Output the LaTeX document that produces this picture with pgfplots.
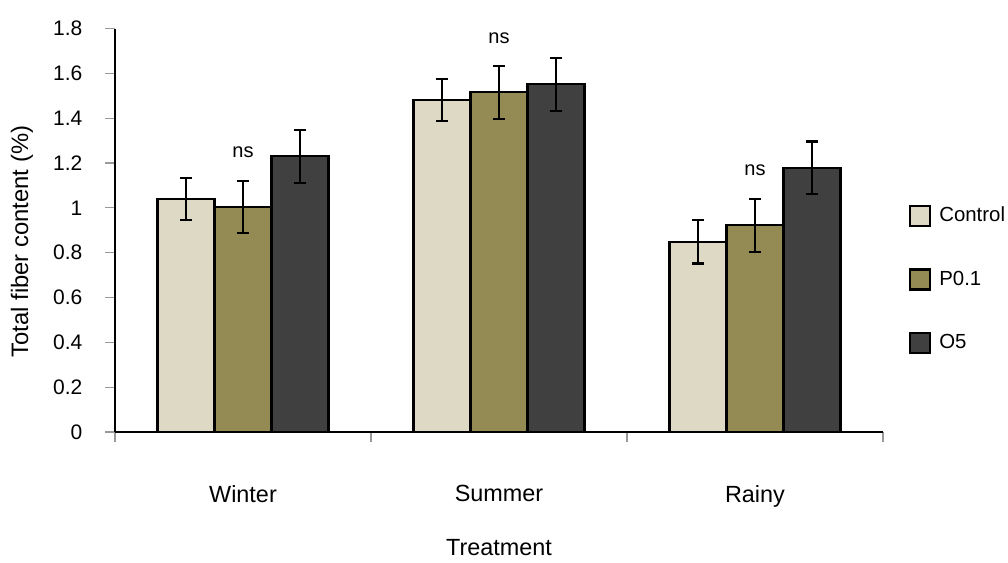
\documentclass[border=0pt]{standalone}
\usepackage{pgfplots}
\pgfplotsset{compat=1.18}
\usepackage{fontspec}
\setmainfont{Liberation Sans}

\definecolor{ctrlfill}{HTML}{DDD9C4}
\definecolor{pfill}{HTML}{948A54}
\definecolor{ofill}{HTML}{404040}

% season, mean, standard error
\pgfplotstableread{
x  y      e
0  1.040  0.094
1  1.480  0.094
2  0.848  0.096
}\control
\pgfplotstableread{
x  y      e
0  1.003  0.117
1  1.515  0.117
2  0.922  0.118
}\ptone
\pgfplotstableread{
x  y      e
0  1.230  0.118
1  1.551  0.118
2  1.178  0.118
}\ofive

\pgfplotsset{
  sqlegend/.style={legend image code/.code={
    \draw[##1, line width=1.1pt] (0pt,-5pt) rectangle (10pt,5pt);}},
  sebars/.style={
    error bars/y dir=both, error bars/y explicit,
    error bars/error bar style={draw=black, line width=1.1pt},
    error bars/error mark options={rotate=90, mark size=3pt, line width=1.1pt, black}},
}

\begin{document}
\begin{tikzpicture}
\begin{axis}[
  at={(0pt,0pt)}, anchor=south west,
  scale only axis, width=384pt, height=201.75pt,
  xmin=-0.5, xmax=2.5, ymin=0, ymax=1.8,
  axis lines*=left,
  axis line style={black, line width=0.6pt},
  ybar=0pt, bar width=28.5pt,
  tick align=outside,
  major tick length=4.8pt,
  tick style={gray!80, line width=0.6pt},
  xtick={-0.5,0.5,1.5,2.5},
  xticklabels={},
  extra x ticks={0,1,2},
  extra x tick labels={Winter,Summer,Rainy},
  extra x tick style={major tick length=0pt},
  xticklabel style={font=\fontsize{11.7}{14}\selectfont, yshift=-23pt},
  ytick={0,0.2,0.4,0.6,0.8,1,1.2,1.4,1.6,1.8},
  yticklabels={0,0.2,0.4,0.6,0.8,1,1.2,1.4,1.6,1.8},
  yticklabel style={font=\fontsize{10.5}{12}\selectfont, xshift=-8pt},
  xlabel={Treatment},
  ylabel={Total fiber content (\%)},
  xlabel style={font=\fontsize{11.7}{14}\selectfont, at={(axis description cs:0.5,-0.2875)}, anchor=center},
  ylabel style={font=\fontsize{11.9}{14}\selectfont, at={(axis description cs:-0.1211,0.472)}, anchor=center},
  legend style={at={(axis description cs:1.034,0.378)}, anchor=west,
    draw=none, fill=none, inner sep=0pt, outer sep=0pt,
    row sep=20.75pt, font=\fontsize{10.2}{12}\selectfont,
    nodes={inner sep=0pt},
    /tikz/every odd column/.append style={column sep=4pt}},
  legend cell align=left,
  clip=false,
]
\addplot[draw=black, line width=1.1pt, fill=ctrlfill, sqlegend, sebars] table[x=x, y=y, y error=e] {\control};
\addplot[draw=black, line width=1.1pt, fill=pfill, sqlegend, sebars] table[x=x, y=y, y error=e] {\ptone};
\addplot[draw=black, line width=1.1pt, fill=ofill, sqlegend, sebars] table[x=x, y=y, y error=e] {\ofive};
\legend{Control, P0.1, O5}

\node[font=\fontsize{10}{12}\selectfont] at (axis cs:0,1.248) {ns};
\node[font=\fontsize{10}{12}\selectfont] at (axis cs:1,1.756) {ns};
\node[font=\fontsize{10}{12}\selectfont] at (axis cs:2,1.168) {ns};
\end{axis}
\path (-57.5pt,-63.5pt) rectangle (446.5pt,216pt);
\end{tikzpicture}
\end{document}
